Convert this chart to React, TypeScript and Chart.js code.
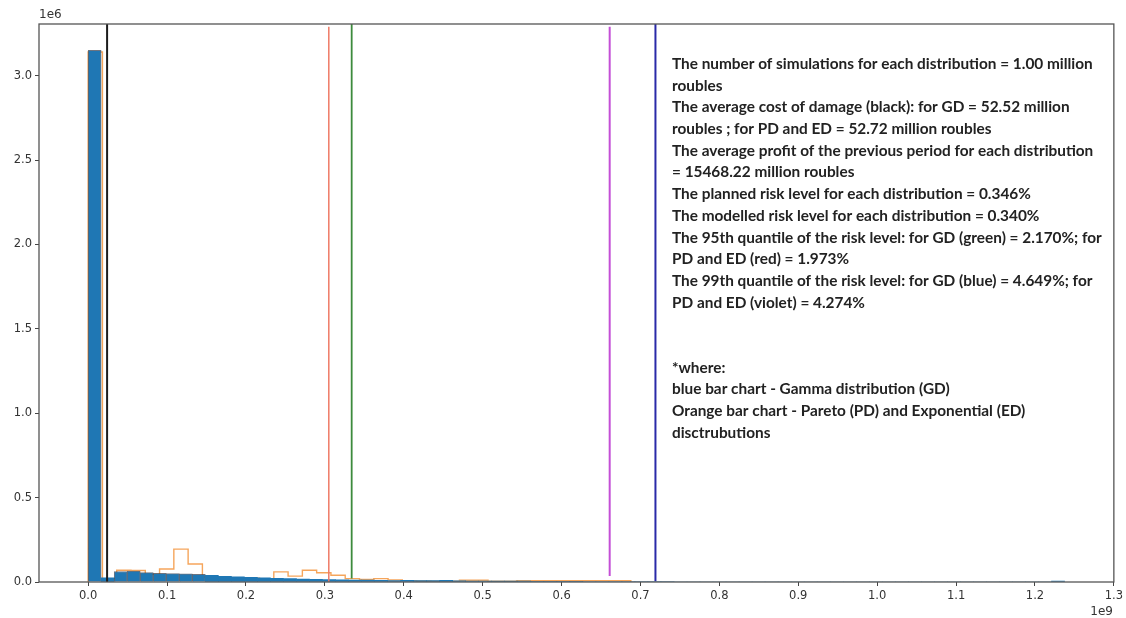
import React, { useEffect, useRef } from "react";
import { Chart, registerables } from "chart.js";

Chart.register(...registerables);

// ---- data (x in units of 1e9, y in units of 1e6) ----
const blueBinWidth = 0.0165;
const blueCounts = [
  3.15, 0.025, 0.062, 0.065, 0.056, 0.052, 0.05, 0.049, 0.045, 0.04,
  0.034, 0.03, 0.027, 0.025, 0.022, 0.02, 0.018, 0.016, 0.014, 0.013,
  0.012, 0.011, 0.01, 0.009, 0.01, 0.009, 0.008, 0.01, 0.007, 0.006,
  0.006, 0.005, 0.005, 0.005, 0.004, 0.004, 0.004, 0.004, 0.003, 0.003,
  0.003, 0.003, 0.003, 0.003, 0.003,
  0, 0, 0, 0, 0, 0, 0, 0, 0, 0, 0, 0, 0, 0, 0, 0, 0, 0, 0, 0, 0, 0, 0, 0, 0, 0, 0, 0, 0,
  0.006,
];

const orangeBinWidth = 0.0181;
const orangeCounts = [
  3.14, 0.02, 0.07, 0.068, 0.045, 0.077, 0.195, 0.107, 0.03, 0.028,
  0.025, 0.022, 0.02, 0.06, 0.035, 0.07, 0.055, 0.04, 0.02, 0.015,
  0.02, 0.012, 0.008, 0.006, 0.005, 0.005, 0.01, 0.01, 0.004, 0.004,
  0.008, 0.008, 0.008, 0.008, 0.008, 0.008, 0.008, 0.008,
];

const vlineNames = ["mean", "q95 PD/ED", "q95 GD", "q99 PD/ED", "q99 GD"];
const vlineX = [0.024, 0.305, 0.334, 0.661, 0.719];
const vlineBottom = [0, 0, 0.02, 0.035, 0.005];
const vlineTop = [3.306, 3.29, 3.306, 3.29, 3.306];

const xTicks = [0, 0.1, 0.2, 0.3, 0.4, 0.5, 0.6, 0.7, 0.8, 0.9, 1.0, 1.1, 1.2, 1.3];
const yTicks = [0, 0.5, 1.0, 1.5, 2.0, 2.5, 3.0];
const xMin = -0.0623;
const xMax = 1.3;
const yMax = 3.306;

const noteLines = [
  "The number of simulations for each distribution = 1.00 million",
  "roubles",
  "The average cost of damage (black): for GD = 52.52 million",
  "roubles ; for PD and ED = 52.72 million roubles",
  "The average profit of the previous period for each distribution",
  "= 15468.22 million roubles",
  "The planned risk level for each distribution = 0.346%",
  "The modelled risk level for each distribution = 0.340%",
  "The 95th quantile of the risk level: for GD (green) = 2.170%; for",
  "PD and ED (red) = 1.973%",
  "The 99th quantile of the risk level: for GD (blue) = 4.649%; for",
  "PD and ED (violet) = 4.274%",
  "",
  "",
  "*where:",
  "blue bar chart - Gamma distribution (GD)",
  "Orange bar chart - Pareto (PD) and Exponential (ED)",
  "disctrubutions",
];

// ---- styles ----
const vlineColors = ["#1c1c1c", "#ef7a66", "#3d8b3d", "#c44fd6", "#2a2aa8"];
const vlineWidths = [2, 1.5, 1.8, 2, 2];

const overlayPlugin = {
  id: "overlay",
  afterDatasetsDraw(chart: any) {
    const { ctx, chartArea } = chart;
    ctx.save();
    ctx.strokeStyle = "#555";
    ctx.lineWidth = 1.3;
    ctx.strokeRect(chartArea.left, chartArea.top, chartArea.right - chartArea.left, chartArea.bottom - chartArea.top);
    ctx.restore();
  },
  afterDraw(chart: any) {
    const { ctx } = chart;
    ctx.save();
    ctx.fillStyle = "#333";
    ctx.font = "12px 'DejaVu Sans', sans-serif";
    ctx.textBaseline = "middle";
    ctx.textAlign = "left";
    ctx.fillText("1e6", 39, 15);
    ctx.textAlign = "right";
    ctx.fillText("1e9", 1113, 612);

    const family = "Lato, 'Noto Sans', sans-serif";
    ctx.font = `bold 14px ${family}`;
    const w = ctx.measureText(noteLines[0]).width;
    const size = 14 * (421 / w);
    ctx.font = `bold ${size.toFixed(2)}px ${family}`;
    ctx.fillStyle = "#222";
    ctx.textAlign = "left";
    ctx.textBaseline = "middle";
    noteLines.forEach((line, i) => {
      if (line) ctx.fillText(line, 672, 64 + i * 21.7);
    });
    ctx.restore();
  },
};

export default function App() {
  const ref = useRef<HTMLCanvasElement | null>(null);

  useEffect(() => {
    if (!ref.current) return;

    const blueData = blueCounts.map((c, k) => ({ x: (k + 0.5) * blueBinWidth, y: c }));

    const orangeData: { x: number; y: number }[] = [{ x: 0, y: 0 }];
    orangeCounts.forEach((c, k) => orangeData.push({ x: k * orangeBinWidth, y: c }));
    orangeData.push({ x: orangeCounts.length * orangeBinWidth, y: 0 });

    const vlineDatasets = vlineX.map((x, i) => ({
      type: "line" as const,
      label: vlineNames[i],
      data: [
        { x, y: vlineBottom[i] },
        { x, y: vlineTop[i] },
      ],
      borderColor: vlineColors[i],
      borderWidth: vlineWidths[i],
      pointRadius: 0,
      fill: false,
      order: 1,
    }));

    const chart = new Chart(ref.current, {
      type: "bar",
      data: {
        datasets: [
          {
            type: "line",
            label: "PD and ED",
            data: orangeData,
            borderColor: "rgba(242,142,50,0.8)",
            borderWidth: 1.4,
            stepped: "before",
            pointRadius: 0,
            fill: false,
            order: 4,
          } as any,
          {
            type: "bar",
            label: "GD",
            data: blueData as any,
            backgroundColor: "#1f77b4",
            borderColor: "rgba(60,70,85,0.75)",
            borderWidth: (c: any) => (c.raw && c.raw.y > 0.04 ? 1 : 0),
            borderSkipped: "bottom",
            barPercentage: 1,
            categoryPercentage: 1,
            order: 3,
          } as any,
          ...vlineDatasets,
        ],
      },
      options: {
        animation: false,
        responsive: false,
        maintainAspectRatio: false,
        layout: { padding: { left: 0, right: 10, top: 24, bottom: 0 } },
        plugins: {
          legend: { display: false },
          tooltip: { enabled: false },
        },
        scales: {
          x: {
            type: "linear",
            min: xMin,
            max: xMax,
            offset: false,
            afterBuildTicks: (s: any) => {
              s.ticks = xTicks.map((v) => ({ value: v }));
            },
            afterFit: (s: any) => {
              s.height = 36;
            },
            grid: {
              offset: false,
              drawOnChartArea: false,
              drawTicks: true,
              tickLength: 4,
              tickColor: "#444",
              tickWidth: 1,
            },
            border: { display: false },
            ticks: {
              autoSkip: false,
              maxRotation: 0,
              padding: 3,
              color: "#333",
              font: { family: "'DejaVu Sans', sans-serif", size: 11.5 },
              callback: (v: any) => Number(v).toFixed(1),
            },
          },
          y: {
            type: "linear",
            min: 0,
            max: yMax,
            afterBuildTicks: (s: any) => {
              s.ticks = yTicks.map((v) => ({ value: v }));
            },
            afterFit: (s: any) => {
              s.width = 39;
            },
            grid: {
              offset: false,
              drawOnChartArea: false,
              drawTicks: true,
              tickLength: 4,
              tickColor: "#444",
              tickWidth: 1,
            },
            border: { display: false },
            ticks: {
              padding: 3,
              color: "#333",
              font: { family: "'DejaVu Sans', sans-serif", size: 11.5 },
              callback: (v: any) => Number(v).toFixed(1),
            },
          },
        },
      } as any,
      plugins: [overlayPlugin],
    });

    return () => chart.destroy();
  }, []);

  return (
    <div style={{ position: "fixed", left: 0, top: 0, width: 1126, height: 618, background: "#fff" }}>
      <canvas ref={ref} width={1126} height={618} style={{ display: "block", width: 1126, height: 618 }} />
    </div>
  );
}
